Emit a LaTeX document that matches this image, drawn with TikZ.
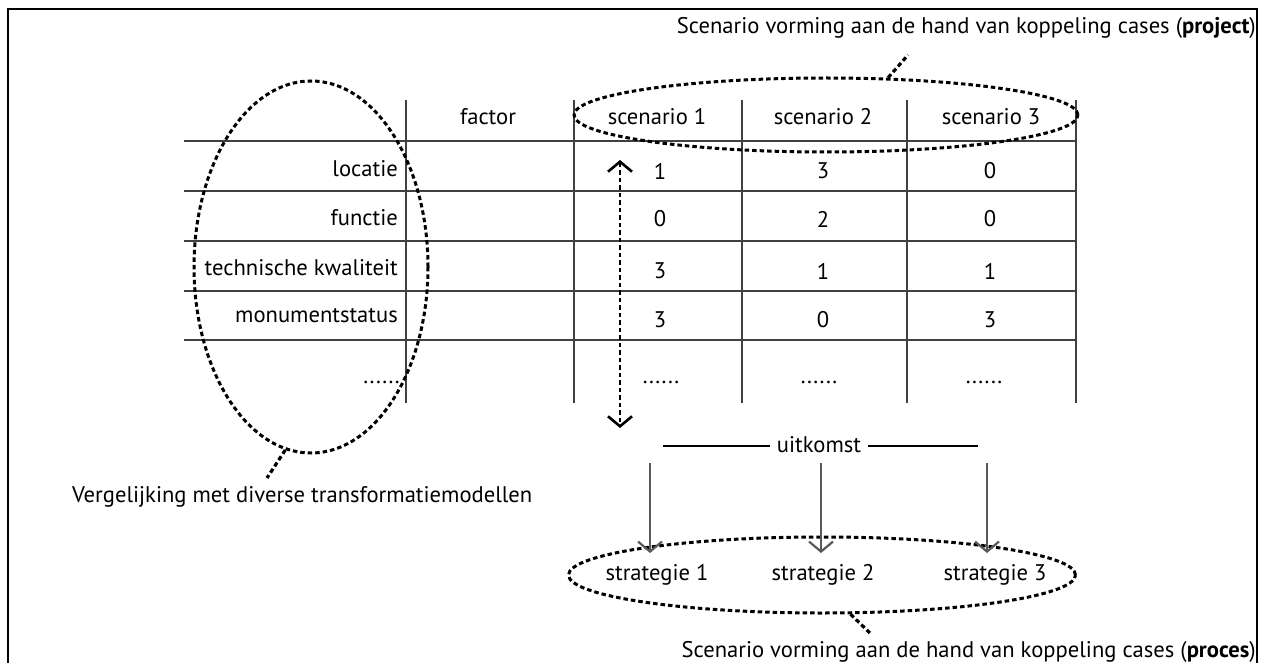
\documentclass[tikz,border=0pt]{standalone}
\usepackage{fontspec}
\setmainfont{PT Sans}
\usepackage{tikz}
\usetikzlibrary{shapes.geometric, arrows.meta}

\begin{document}
\begin{tikzpicture}[x=1pt, y=-1pt,
  every node/.style={font=\fontsize{22.6}{25}\selectfont, inner sep=0pt},
  rule/.style={draw=black!75, line width=2pt},
  ring/.style={ellipse, draw, dash pattern=on 4.5pt off 3pt, line width=3pt},
  leader/.style={dash pattern=on 4.5pt off 3pt, line width=3.2pt},
  >={Straight Barb[length=10pt, width=24pt]}]
\useasboundingbox (0, 0) rectangle (1263, 663);
\draw[line width=2.5pt] (8, 663) -- (8, 9) -- (1257, 9) -- (1257, 663);

% table
\foreach \y in {141, 191, 241, 291, 340}
  \draw[rule] (184, \y) -- (1077, \y);
\foreach \x in {406, 574, 742, 907, 1076}
  \draw[rule] (\x, 100) -- (\x, 403);

\node (factor) at (488, 117) {factor};
\node (scen1) at (657, 117) {scenario 1};
\node (scen2) at (823, 117) {scenario 2};
\node (scen3) at (991, 117) {scenario 3};

\node[anchor=east] (locatie) at (398, 169) {locatie};
\node[anchor=east] (functie) at (398, 218) {functie};
\node[anchor=east] (kwaliteit) at (398, 268) {technische kwaliteit};
\node[anchor=east] (monument) at (398, 316) {monumentstatus};
\node[anchor=east] (more) at (400, 382) {......};

\foreach \y/\a/\b/\c [count=\r] in {171/1/3/0, 219/0/2/0, 271/3/1/1, 320/3/0/3} {
  \node (v\r a) at (660, \y) {\a};
  \node (v\r b) at (823, \y) {\b};
  \node (v\r c) at (990, \y) {\c};
}
\node (morea) at (661, 382) {......};
\node (moreb) at (819, 382) {......};
\node (morec) at (984, 382) {......};

% rings
\node[ring, minimum width=504, minimum height=74] (projring) at (826, 115) {};
\node[ring, minimum width=234, minimum height=372] (modring) at (311, 267) {};
\node[ring, minimum width=507, minimum height=76] (procring) at (822, 575) {};

\node[anchor=east] (projcap) at (1256, 28) {Scenario vorming aan de hand van koppeling cases (\textbf{project})};
\node[anchor=east] (proccap) at (1256, 652) {Scenario vorming aan de hand van koppeling cases (\textbf{proces})};
\node[anchor=west] (modcap) at (72, 497) {Vergelijking met diverse transformatiemodellen};

\coordinate (projtip) at (908, 55);
\coordinate (proctip) at (870, 633);
\coordinate (modtip) at (267, 478);
\draw[leader] (projring.31) -- (projtip);
\draw[leader] (procring.306) -- (proctip);
\draw[leader] (modring.262) -- (modtip);

% scenario to outcome
\coordinate (up) at (620, 160);
\coordinate (down) at (620, 428);
\draw[<->, leader, line width=2.6pt] (up) -- (down);

\node (uitkomst) at (819, 445) {uitkomst};
\coordinate (uitL) at (663, 446);
\coordinate (uitR) at (978, 446);
\draw[line width=2pt] (uitL) -- ([xshift=-7pt]uitkomst.west |- uitL);
\draw[line width=2pt] ([xshift=7pt]uitkomst.east |- uitR) -- (uitR);

\node (strat1) at (657, 575) {strategie 1};
\node (strat2) at (823, 575) {strategie 2};
\node (strat3) at (995, 575) {strategie 3};

\foreach \x [count=\s] in {650, 821, 987} {
  \coordinate (from\s) at (\x, 463);
  \coordinate (to\s) at (\x, 553);
  \draw[->, draw=black!65, line width=2.2pt] (from\s) -- (to\s);
}
\end{tikzpicture}
\end{document}
